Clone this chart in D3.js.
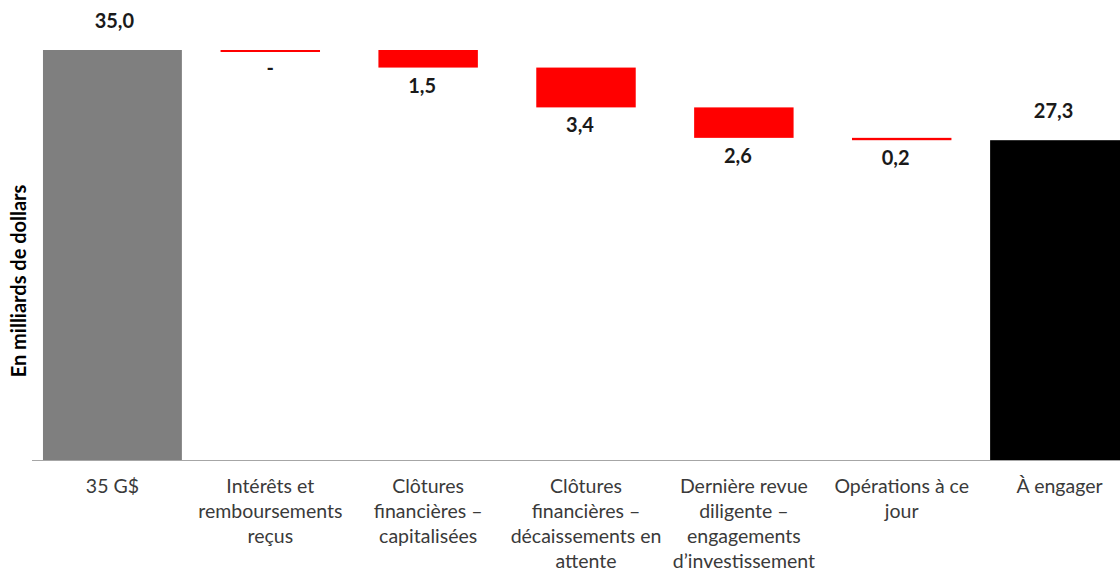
<!DOCTYPE html>
<html>
<head>
<meta charset="utf-8">
<script src="https://cdn.jsdelivr.net/npm/d3@7"></script>
<style>
  body { margin: 0; background: #fff; }
  svg { display: block; font-family: Lato, "Open Sans", sans-serif; }
</style>
</head>
<body>
<div id="chart"></div>
<script>
// chart values
const categories = [
    "35 G$",
    "Intérêts et\nremboursements\nreçus",
    "Clôtures\nfinancières –\ncapitalisées",
    "Clôtures\nfinancières –\ndécaissements en\nattente",
    "Dernière revue\ndiligente –\nengagements\nd’investissement",
    "Opérations à ce\njour",
    "À engager"
];
const values = [35.0, 0, 1.5, 3.4, 2.6, 0.2, 27.3];
const kinds = ["start", "down", "down", "down", "down", "down", "end"];
const yTitle = "En milliards de dollars";

const width = 1120;
const height = 571;

const colors = { start: "#7f7f7f", down: "#ff0000", end: "#000000" };

const svg = d3.select("#chart").append("svg")
    .attr("width", width)
    .attr("height", height);

const x = d3.scaleBand()
    .domain(categories)
    .range([33.5, 1138.5]);

const y = d3.scaleLinear()
    .domain([0, 35])
    .range([460, 50]);

// running totals for the waterfall
let running = 0;
const bars = values.map((v, i) => {
    let top, bottom;
    if (kinds[i] === "down") {
        top = running;
        bottom = running - v;
        running = bottom;
    } else {
        top = v;
        bottom = 0;
        running = v;
    }
    return { cat: categories[i], value: v, kind: kinds[i], top, bottom, i };
});

const barW = d => x.step() * (d.kind === "down" ? 0.63 : 0.88);

svg.append("g").selectAll("rect")
    .data(bars)
    .enter().append("rect")
    .attr("x", d => x(d.cat) + x.step() / 2 - barW(d) / 2)
    .attr("y", d => y(d.top))
    .attr("width", barW)
    .attr("height", d => Math.max(y(d.bottom) - y(d.top), 2))
    .attr("fill", d => colors[d.kind]);

// axis line
const axis = svg.append("g")
    .attr("transform", "translate(0,460.5)")
    .call(d3.axisBottom(x).tickSize(0).tickFormat(""));
axis.select(".domain")
    .attr("d", "M32,0H" + width)
    .attr("stroke", "#a6a6a6");

// category labels
const catLabel = svg.append("g").selectAll("text")
    .data(categories)
    .enter().append("text")
    .attr("text-anchor", "middle")
    .attr("font-size", 19.5)
    .attr("fill", "#3a3a3a")
    .attr("transform", d => `translate(${x(d) + x.step() / 2},493)`);
catLabel.selectAll("tspan")
    .data(d => d.split("\n"))
    .enter().append("tspan")
    .attr("x", 0)
    .attr("y", (d, i) => i * 25)
    .text(d => d);

// value labels
const fmt = v => v === 0 ? "-" : v.toFixed(1).replace(".", ",");
svg.append("g").selectAll("text")
    .data(bars)
    .enter().append("text")
    .attr("text-anchor", "middle")
    .attr("font-size", 20)
    .attr("font-weight", "bold")
    .attr("fill", "#1a1a1a")
    .attr("x", d => x(d.cat) + x.step() / 2 + (d.i === 0 ? 2 : d.value === 0 ? 0 : -6))
    .attr("y", d => d.kind === "down" ? y(d.bottom) + 25 : y(d.top) - 22)
    .text(d => fmt(d.value));

// y title
svg.append("text")
    .attr("transform", "translate(26,281) rotate(-90)")
    .attr("text-anchor", "middle")
    .attr("font-size", 20)
    .attr("font-weight", "bold")
    .attr("fill", "#000")
    .text(yTitle);
</script>
</body>
</html>
